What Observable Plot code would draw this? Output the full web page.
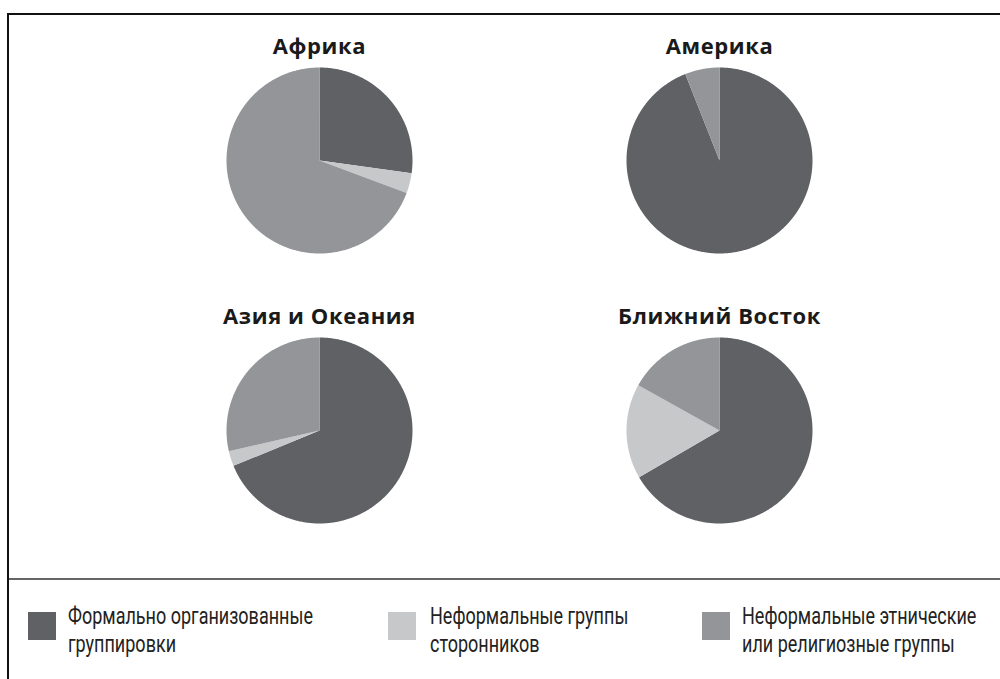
<!DOCTYPE html>
<html>
<head>
<meta charset="utf-8">
<script src="https://cdn.jsdelivr.net/npm/d3@7"></script>
<script src="https://cdn.jsdelivr.net/npm/@observablehq/plot@0.6"></script>
<style>
  html, body { margin: 0; padding: 0; background: #fff; }
  body { width: 1000px; height: 679px; position: relative; overflow: hidden; }
  #chart { position: absolute; left: 0; top: 0; }
  #chart svg { background: transparent !important; }
  .line { position: absolute; }
  .sw { position: absolute; width: 28px; height: 28px; }
  .lt { position: absolute; font-family: Roboto, "Liberation Sans Narrow", sans-serif;
        font-size: 23px; line-height: 28px; color: #222; white-space: nowrap;
        transform-origin: 0 0; }
</style>
</head>
<body>
<div id="chart"></div>
<div class="line" style="left:7px;top:13px;width:993px;height:2px;background:#111"></div>
<div class="line" style="left:7px;top:13px;width:2px;height:666px;background:#111"></div>
<div class="line" style="left:9px;top:578px;width:991px;height:2px;background:#666"></div>
<div id="legend"></div>
<script>
// ---- data ----
const regions = ["Африка", "Америка", "Азия и Океания", "Ближний Восток"];
const regionCol = [0, 1, 0, 1];
const regionRow = [0, 0, 1, 1];
const categories = [
  "Формально организованные группировки",
  "Неформальные группы сторонников",
  "Неформальные этнические или религиозные группы"
];
const legendLines = [
  ["Формально организованные", "группировки"],
  ["Неформальные группы", "сторонников"],
  ["Неформальные этнические", "или религиозные группы"]
];
const colors = ["#5f6164", "#c6c8ca", "#939598"];
// shares (%) per region, in order of `regions`
const formal     = [27.2, 94.0, 68.8, 66.6];
const supporters = [3.5,  0.0,  2.6,  16.5];
const ethnic     = [69.3, 6.0,  28.6, 16.9];
const seriesValues = [formal, supporters, ethnic];

// ---- build pie slices as planar polygons ----
const slices = [];
regions.forEach((region, i) => {
  const vals = categories.map((c, j) => ({category: c, value: seriesValues[j][i]}));
  const arcs = d3.pie().sort(null).value(d => d.value)(vals);
  arcs.forEach(a => {
    const span = a.endAngle - a.startAngle;
    if (span <= 0) return;
    const n = Math.max(2, Math.ceil(span / (Math.PI / 360)));
    const ring = [[0, 0]];
    for (let k = 0; k <= n; k++) {
      const t = a.startAngle + span * k / n;
      ring.push([Math.sin(t), Math.cos(t)]);
    }
    ring.push([0, 0]);
    slices.push({
      region, col: regionCol[i], row: regionRow[i], category: a.data.category,
      geometry: {type: "Polygon", coordinates: [ring]}
    });
  });
});
const titles = regions.map((r, i) => ({region: r, col: regionCol[i], row: regionRow[i]}));

const half = 1.4516;
const chart = Plot.plot({
  width: 1000,
  height: 579,
  marginLeft: 119,
  marginRight: 81,
  marginTop: 25,
  marginBottom: 14,
  style: {fontFamily: "'Open Sans', sans-serif", background: "transparent"},
  fx: {axis: null, padding: 0, domain: [0, 1]},
  fy: {axis: null, padding: 0, domain: [0, 1]},
  projection: {type: "reflect-y", domain: {type: "MultiPoint", coordinates: [[-half, -half], [half, half]]}},
  color: {domain: categories, range: colors},
  marks: [
    Plot.geo(slices, {geometry: d => d.geometry, fill: "category", fx: "col", fy: "row"}),
    Plot.text(titles, {
      fx: "col", fy: "row", text: "region", frameAnchor: "top", lineAnchor: "bottom", dy: 28,
      fontSize: 22, fontWeight: 700, fill: "#1a1a1a"
    })
  ]
});
document.getElementById("chart").appendChild(chart);
chart.querySelectorAll("text").forEach(t => t.style.letterSpacing = "0.6px");

// ---- legend ----
const swX = [28, 388, 702];
const txX = [68, 430, 742];
const legend = document.getElementById("legend");
const textEls = [];
categories.forEach((c, j) => {
  const sw = document.createElement("div");
  sw.className = "sw";
  sw.style.left = swX[j] + "px";
  sw.style.top = "612px";
  sw.style.background = colors[j];
  legend.appendChild(sw);
  const t = document.createElement("div");
  t.className = "lt";
  t.style.left = txX[j] + "px";
  t.style.top = "603px";
  t.innerHTML = legendLines[j].map(s => `<span>${s}</span>`).join("<br>");
  legend.appendChild(t);
  textEls.push(t);
});
// condense legend text (reference uses a condensed face)
const firstW = textEls[0].querySelector("span").getBoundingClientRect().width;
const k = 245 / firstW;
textEls.forEach(t => t.style.transform = `scaleX(${k})`);
</script>
</body>
</html>
